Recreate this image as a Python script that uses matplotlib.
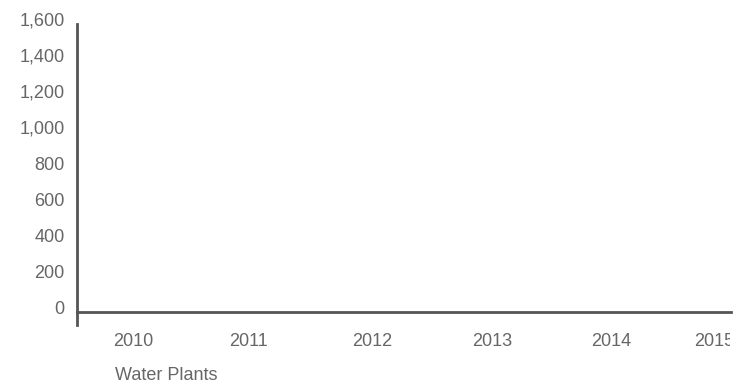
import matplotlib
matplotlib.use('Agg')
import matplotlib.pyplot as plt
import matplotlib.transforms as mtransforms

plt.rcParams['font.family'] = ['Liberation Sans', 'DejaVu Sans']

# datos del grafico (sin series visibles)
years = ['2010', '2011', '2012', '2013', '2014', '2015']
y_ticks = [0, 200, 400, 600, 800, 1000, 1200, 1400, 1600]
category_label = 'Water Plants'

W, H = 756, 387
fig = plt.figure(figsize=(W / 100, H / 100), dpi=100)

# ejes en pixeles
left, right, top, bottom = 77, 731, 24, 325
ax = fig.add_axes([left / W, 1 - bottom / H, (right - left) / W, (bottom - top) / H])

gris = '#666666'
linea = '#555555'

ax.set_ylim(-72.2, 1600)
ax.set_xlim(-0.467, 4.983)

for s in ['top', 'right']:
    ax.spines[s].set_visible(False)
ax.spines['bottom'].set_position(('data', 0))
ax.spines['bottom'].set_color(linea)
ax.spines['bottom'].set_linewidth(2)
ax.spines['left'].set_color(linea)
ax.spines['left'].set_linewidth(2)

ax.set_xticks(range(len(years)))
ax.set_xticklabels(years)
ax.set_yticks(y_ticks)
ax.set_yticklabels([f'{v:,}' for v in y_ticks])
ax.tick_params(length=0, labelsize=13, labelcolor=gris)
ax.tick_params(axis='x', pad=15)
ax.tick_params(axis='y', pad=9)

# etiquetas del eje y un poco mas arriba
for lbl in ax.get_yticklabels():
    off = mtransforms.ScaledTranslation(0, 5 / 100, fig.dpi_scale_trans)
    lbl.set_transform(lbl.get_transform() + off)

# pequeños ajustes horizontales de las etiquetas del eje x (en pixeles)
ajustes = [0, -4, 0, 0, 0, -17]
clip = mtransforms.TransformedBbox(mtransforms.Bbox([[0, 0], [right - 1, H]]),
                                   mtransforms.IdentityTransform())
for lbl, dx in zip(ax.get_xticklabels(), ajustes):
    off = mtransforms.ScaledTranslation(dx / 100, 0, fig.dpi_scale_trans)
    lbl.set_transform(lbl.get_transform() + off)
    lbl.set_clip_box(clip)
    lbl.set_clip_on(True)

fig.text(115 / W, 1 - 375 / H, category_label, fontsize=13, color=gris,
         ha='left', va='center')

fig.savefig('out.png', dpi=100)
